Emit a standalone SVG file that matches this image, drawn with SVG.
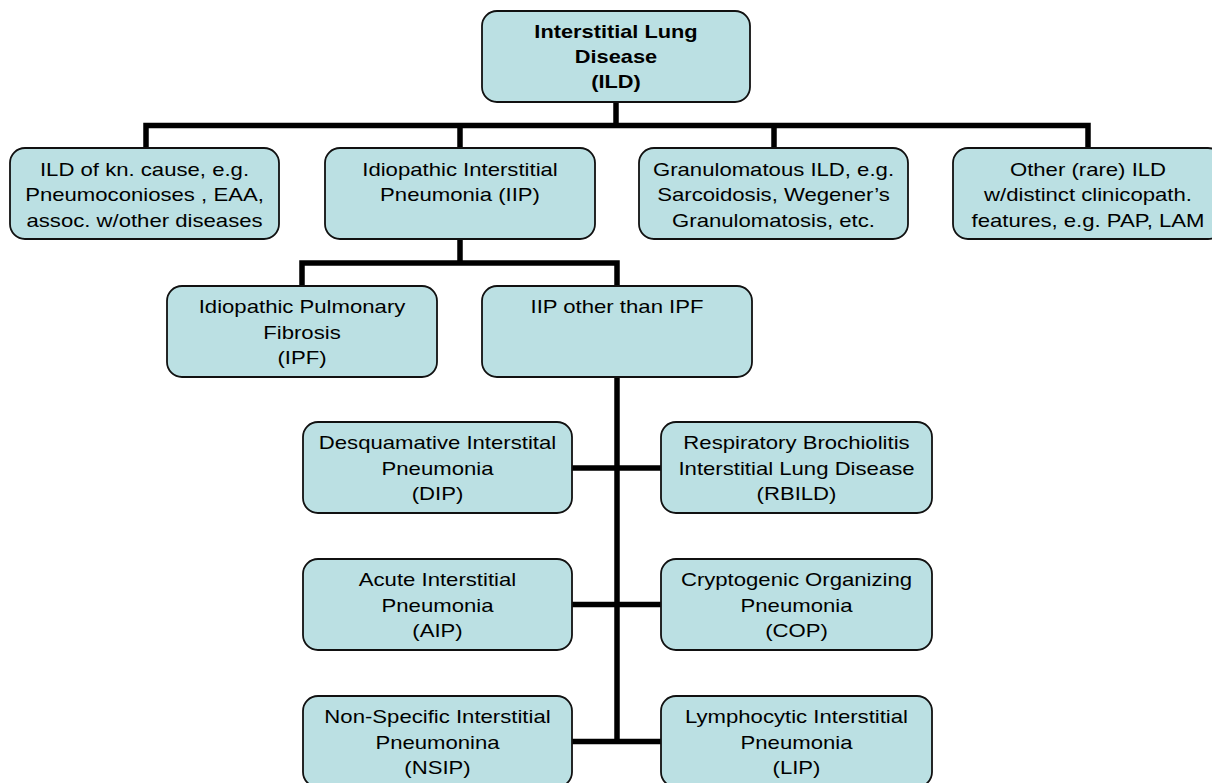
<svg xmlns="http://www.w3.org/2000/svg" width="1212" height="783" viewBox="0 0 1212 783">
<style>
.box{fill:#BBE0E3;stroke:#111;stroke-width:1.8}
.t{font-family:"Liberation Sans",Arial,sans-serif;font-size:18.3px;fill:#000;text-anchor:middle}
.b{font-weight:bold}
.c{fill:none;stroke:#000;stroke-width:5.5;stroke-linejoin:miter}
</style>
<rect width="1212" height="783" fill="#fff"/>
<g id="connectors">
<path class="c" d="M616,102V125.5M146,148V125.5H1088V148M460,125.5V148M774,125.5V148"/>
<path class="c" d="M460,239V263M302,286V263H617V286"/>
<path class="c" d="M617,377V741.5"/>
<path class="c" d="M572,468H661M572,604.5H661M572,741.5H661"/>
</g>
<g id="ild">
<rect class="box" x="482" y="11" width="268" height="91" rx="15"/>
<text class="t b" transform="translate(616 38) scale(1.19 1)">Interstitial Lung</text>
<text class="t b" transform="translate(616 63) scale(1.19 1)">Disease</text>
<text class="t b" transform="translate(616 88) scale(1.19 1)">(ILD)</text>
</g>
<g id="known">
<rect class="box" x="10" y="148" width="269" height="91" rx="15"/>
<text class="t" transform="translate(144.5 175.5) scale(1.21 1)">ILD of kn. cause, e.g.</text>
<text class="t" transform="translate(144.5 201) scale(1.21 1)">Pneumoconioses , EAA,</text>
<text class="t" transform="translate(144.5 226.5) scale(1.21 1)">assoc. w/other diseases</text>
</g>
<g id="iip">
<rect class="box" x="325" y="148" width="270" height="91" rx="15"/>
<text class="t" transform="translate(460 175.5) scale(1.21 1)">Idiopathic Interstitial</text>
<text class="t" transform="translate(460 201) scale(1.21 1)">Pneumonia (IIP)</text>
</g>
<g id="gran">
<rect class="box" x="639" y="148" width="269" height="91" rx="15"/>
<text class="t" transform="translate(773.5 175.5) scale(1.21 1)">Granulomatous ILD, e.g.</text>
<text class="t" transform="translate(773.5 201) scale(1.21 1)">Sarcoidosis, Wegener’s</text>
<text class="t" transform="translate(773.5 226.5) scale(1.21 1)">Granulomatosis, etc.</text>
</g>
<g id="other">
<rect class="box" x="953" y="148" width="270" height="91" rx="15"/>
<text class="t" transform="translate(1088 175.5) scale(1.21 1)">Other (rare) ILD</text>
<text class="t" transform="translate(1088 201) scale(1.21 1)">w/distinct clinicopath.</text>
<text class="t" transform="translate(1088 226.5) scale(1.21 1)">features, e.g. PAP, LAM</text>
</g>
<g id="ipf">
<rect class="box" x="167" y="286" width="270" height="91" rx="15"/>
<text class="t" transform="translate(302 313) scale(1.21 1)">Idiopathic Pulmonary</text>
<text class="t" transform="translate(302 338.5) scale(1.21 1)">Fibrosis</text>
<text class="t" transform="translate(302 364) scale(1.21 1)">(IPF)</text>
</g>
<g id="iip-other">
<rect class="box" x="482" y="286" width="270" height="91" rx="15"/>
<text class="t" transform="translate(617 313) scale(1.21 1)">IIP other than IPF</text>
</g>
<g id="dip">
<rect class="box" x="303" y="422" width="269" height="91" rx="15"/>
<text class="t" transform="translate(437.5 449) scale(1.21 1)">Desquamative Interstital</text>
<text class="t" transform="translate(437.5 474.5) scale(1.21 1)">Pneumonia</text>
<text class="t" transform="translate(437.5 500) scale(1.21 1)">(DIP)</text>
</g>
<g id="rbild">
<rect class="box" x="661" y="422" width="271" height="91" rx="15"/>
<text class="t" transform="translate(796.5 449) scale(1.21 1)">Respiratory Brochiolitis</text>
<text class="t" transform="translate(796.5 474.5) scale(1.21 1)">Interstitial Lung Disease</text>
<text class="t" transform="translate(796.5 500) scale(1.21 1)">(RBILD)</text>
</g>
<g id="aip">
<rect class="box" x="303" y="559" width="269" height="91" rx="15"/>
<text class="t" transform="translate(437.5 586) scale(1.21 1)">Acute Interstitial</text>
<text class="t" transform="translate(437.5 611.5) scale(1.21 1)">Pneumonia</text>
<text class="t" transform="translate(437.5 637) scale(1.21 1)">(AIP)</text>
</g>
<g id="cop">
<rect class="box" x="661" y="559" width="271" height="91" rx="15"/>
<text class="t" transform="translate(796.5 586) scale(1.21 1)">Cryptogenic Organizing</text>
<text class="t" transform="translate(796.5 611.5) scale(1.21 1)">Pneumonia</text>
<text class="t" transform="translate(796.5 637) scale(1.21 1)">(COP)</text>
</g>
<g id="nsip">
<rect class="box" x="303" y="696" width="269" height="91" rx="15"/>
<text class="t" transform="translate(437.5 723) scale(1.21 1)">Non-Specific Interstitial</text>
<text class="t" transform="translate(437.5 748.5) scale(1.21 1)">Pneumonina</text>
<text class="t" transform="translate(437.5 774) scale(1.21 1)">(NSIP)</text>
</g>
<g id="lip">
<rect class="box" x="661" y="696" width="271" height="91" rx="15"/>
<text class="t" transform="translate(796.5 723) scale(1.21 1)">Lymphocytic Interstitial</text>
<text class="t" transform="translate(796.5 748.5) scale(1.21 1)">Pneumonia</text>
<text class="t" transform="translate(796.5 774) scale(1.21 1)">(LIP)</text>
</g>
</svg>
